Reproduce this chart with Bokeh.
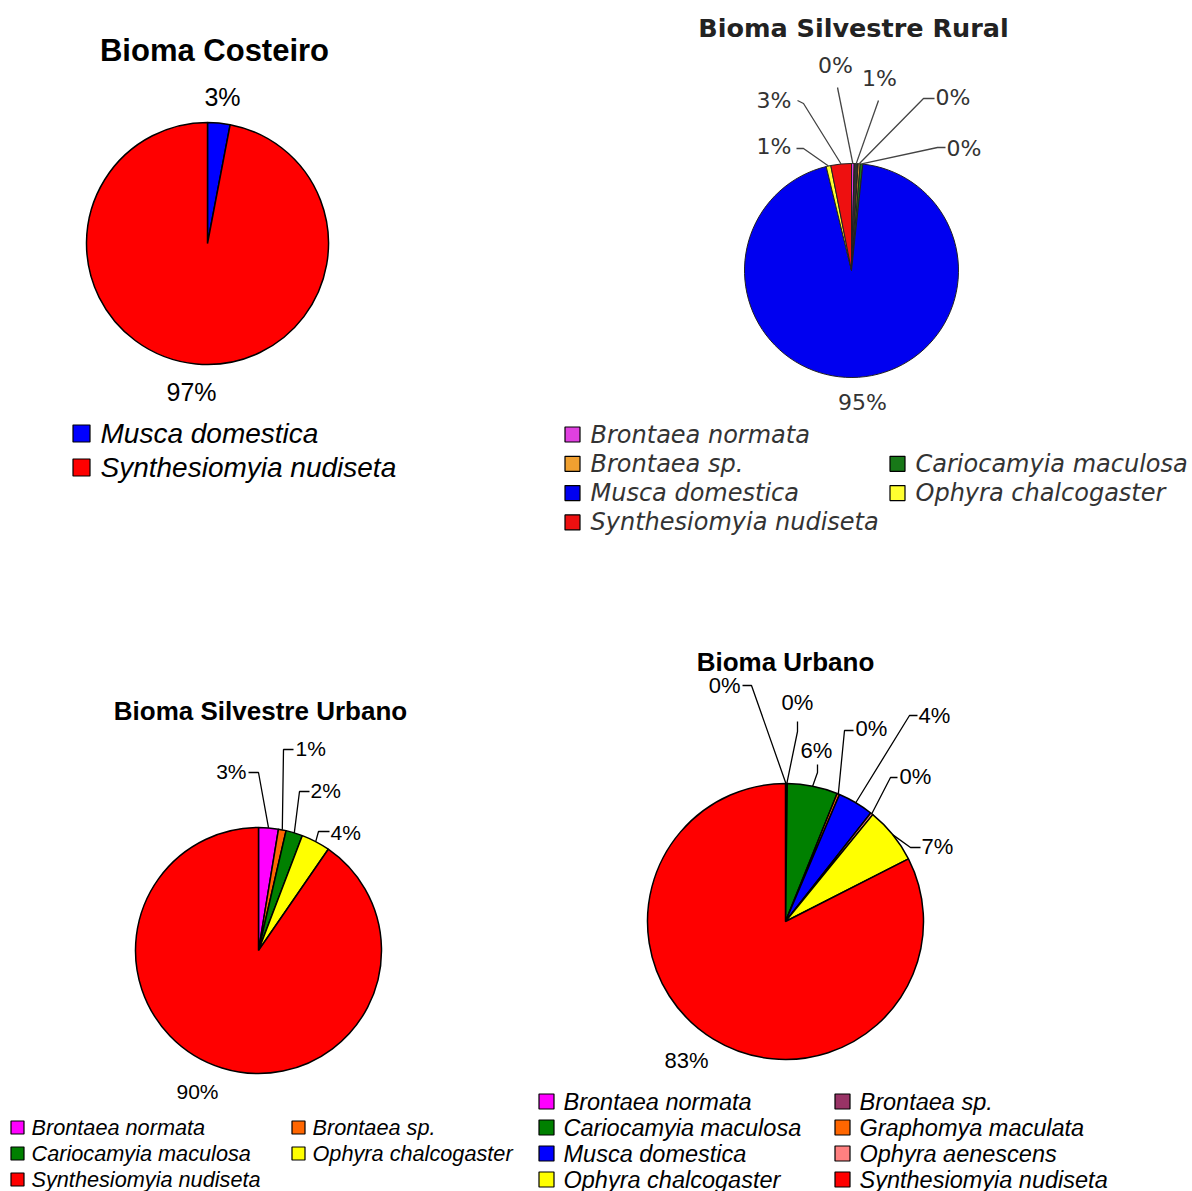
import math
from bokeh.plotting import figure
from bokeh.models import Range1d, ColumnDataSource
from bokeh.core.properties import value
from bokeh.embed import file_html
from bokeh.resources import INLINE

W, H = 1192, 1191

# ---------------- data ----------------
cost_species = ["Musca domestica", "Synthesiomyia nudiseta"]
cost_values = [3.0, 97.0]
cost_labels = ["3%", "97%"]
cost_colors = ["#0000ff", "#ff0000"]

rur_species = ["Brontaea normata", None, "Brontaea sp.", "Cariocamyia maculosa",
               "Musca domestica", "Ophyra chalcogaster", "Synthesiomyia nudiseta"]
rur_values = [0.4, 0.6, 0.3, 0.4, 94.5, 0.7, 3.1]
rur_labels = ["0%", "1%", "0%", "0%", "95%", "1%", "3%"]
rur_colors = ["#e040e0", "#303030", "#f0a030", "#187818", "#0000f0", "#ffff30", "#ee1010"]

su_species = ["Brontaea normata", "Brontaea sp.", "Cariocamyia maculosa",
              "Ophyra chalcogaster", "Synthesiomyia nudiseta"]
su_values = [2.6, 1.0, 2.2, 3.8, 90.4]
su_labels = ["3%", "1%", "2%", "4%", "90%"]
su_colors = ["#ff00ff", "#ff6600", "#008000", "#ffff00", "#ff0000"]

urb_species = ["Brontaea normata", "Brontaea sp.", "Cariocamyia maculosa", "Graphomya maculata",
               "Musca domestica", "Ophyra aenescens", "Ophyra chalcogaster", "Synthesiomyia nudiseta"]
urb_values = [0.1, 0.1, 5.9, 0.3, 4.2, 0.3, 6.6, 82.5]
urb_labels = ["0%", "0%", "6%", "0%", "4%", "0%", "7%", "83%"]
urb_colors = ["#ff00ff", "#993366", "#008000", "#ff6600", "#0000ff", "#ff8080", "#ffff00", "#ff0000"]

# ---------------- layout (image pixel coords, y down) ----------------
PIES = [
    dict(species=cost_species, values=cost_values, labels=cost_labels, colors=cost_colors,
         cx=207, cy=243, r=121, outline="black", lw=1.5, lead_color="black",
         font="Liberation Sans", tcolor="black", label_size="25px",
         title="Bioma Costeiro", title_xy=(214, 50), title_size="31px",
         label_pos=[(222, 96, "center"), (191, 391, "center")],
         leaders=[None, None],
         legend=dict(xs=[81], y0=433, dy=34, msize=17, tdx=19, size="28px")),
    dict(species=rur_species, values=rur_values, labels=rur_labels, colors=rur_colors,
         cx=851, cy=270, r=107, outline="#202020", lw=1.0, lead_color="#444444",
         font="DejaVu Sans", tcolor="#333333", label_size="22px",
         title="Bioma Silvestre Rural", title_xy=(853, 27), title_size="25.5px",
         label_pos=[(835, 65, "center"), (879, 78, "center"), (935, 97, "left"),
                    (946, 148, "left"), (862, 402, "center"), (791, 146, "right"),
                    (791, 100, "right")],
         leaders=[[(837, 87)], [(878, 100)], [(923, 98), (934, 98)],
                  [(937, 147), (945, 147)], None, [(803, 148), (796, 148)],
                  [(803, 103), (797, 100)]],
         legend=dict(xs=[572, 897], y0=434, dy=29.3, msize=15, tdx=18, size="24px")),
    dict(species=su_species, values=su_values, labels=su_labels, colors=su_colors,
         cx=258, cy=950, r=123, outline="black", lw=1.5, lead_color="black",
         font="Liberation Sans", tcolor="black", label_size="21px",
         title="Bioma Silvestre Urbano", title_xy=(260, 710), title_size="26px",
         label_pos=[(246, 771, "right"), (295, 748, "left"), (310, 790, "left"),
                    (330, 832, "left"), (197, 1091, "center")],
         leaders=[[(258, 772), (248, 772)], [(283, 749), (293, 749)],
                  [(299, 791), (309, 791)], [(318, 831), (329, 831)], None],
         legend=dict(xs=[17, 298], y0=1127, dy=26, msize=13, tdx=14, size="21.7px")),
    dict(species=urb_species, values=urb_values, labels=urb_labels, colors=urb_colors,
         cx=785, cy=921, r=138, outline="black", lw=1.5, lead_color="black",
         font="Liberation Sans", tcolor="black", label_size="22px",
         title="Bioma Urbano", title_xy=(785, 661), title_size="26px",
         label_pos=[(740, 685, "right"), (797, 702, "center"), (816, 750, "center"),
                    (855, 728, "left"), (918, 715, "left"), (899, 776, "left"),
                    (921, 846, "left"), (686, 1060, "center")],
         leaders=[[(751, 685), (742, 685)], [(797, 731), (797, 721)],
                  [(817, 772), (817, 764)], [(844, 730), (853, 730)],
                  [(909, 715), (917, 715)], [(890, 777), (897, 777)],
                  [(910, 847), (920, 847)], None],
         legend=dict(xs=[546, 842], y0=1101, dy=26, msize=15, tdx=17, size="23.5px")),
]


def Y(v):
    return H - v


p = figure(width=W, height=H, x_range=Range1d(0, W), y_range=Range1d(0, H),
           output_backend="svg", toolbar_location=None, min_border=0,
           x_axis_location=None, y_axis_location=None)
p.grid.visible = False
p.outline_line_color = None
p.background_fill_color = "white"
p.border_fill_color = "white"

for pie in PIES:
    vals = pie["values"]
    tot = float(sum(vals))
    cx, cy, r = pie["cx"], Y(pie["cy"]), pie["r"]
    starts, ends, mids = [], [], []
    cum = 0.0
    for v in vals:
        a0 = math.pi / 2 - 2 * math.pi * cum / tot
        cum += v
        a1 = math.pi / 2 - 2 * math.pi * cum / tot
        starts.append(a0)
        ends.append(a1)
        mids.append((a0 + a1) / 2)
    src = ColumnDataSource(dict(x=[cx] * len(vals), y=[cy] * len(vals),
                                s=starts, e=ends, c=pie["colors"]))
    p.wedge(x="x", y="y", radius=r, start_angle="s", end_angle="e", direction="clock",
            fill_color="c", line_color=pie["outline"], line_width=pie["lw"], source=src)

    # leader lines from slice edge
    xs, ys = [], []
    for m, ld in zip(mids, pie["leaders"]):
        if ld is None:
            continue
        ex, ey = cx + r * math.cos(m), cy + r * math.sin(m)
        xs.append([ex] + [pt[0] for pt in ld])
        ys.append([ey] + [Y(pt[1]) for pt in ld])
    if xs:
        p.multi_line(xs=xs, ys=ys, line_color=pie["lead_color"], line_width=1.3)

    # percentage labels
    for align in ("left", "right", "center"):
        lx, ly, lt = [], [], []
        for (x, y, a), t in zip(pie["label_pos"], pie["labels"]):
            if a == align:
                lx.append(x); ly.append(Y(y)); lt.append(t)
        if lx:
            p.text(x=lx, y=ly, text=lt, text_align=align, text_baseline="middle",
                   text_font=value(pie["font"]), text_font_size=pie["label_size"],
                   text_color=pie["tcolor"])

    # title
    tx, ty = pie["title_xy"]
    p.text(x=[tx], y=[Y(ty)], text=[pie["title"]], text_align="center", text_baseline="middle",
           text_font=value(pie["font"]), text_font_size=pie["title_size"],
           text_font_style="bold", text_color=pie["tcolor"] if pie["font"] != "DejaVu Sans" else "#222222")

    # legend (row-major grid)
    lg = pie["legend"]
    ncol = len(lg["xs"])
    mx, my, mc, tx_, ty_, tt = [], [], [], [], [], []
    for i, (name, col) in enumerate(zip(pie["species"], pie["colors"])):
        if name is None:
            continue
        rr, cc = divmod(i, ncol)
        x = lg["xs"][cc]
        y = Y(lg["y0"] + rr * lg["dy"])
        mx.append(x); my.append(y); mc.append(col)
        tx_.append(x + lg["tdx"]); ty_.append(y); tt.append(name)
    p.scatter(x=mx, y=my, marker="square", size=lg["msize"], fill_color=mc,
              line_color="black", line_width=1.2)
    p.text(x=tx_, y=ty_, text=tt, text_align="left", text_baseline="middle",
           text_font=value(pie["font"]), text_font_size=lg["size"], text_font_style="italic",
           text_color=pie["tcolor"])

open("out.html", "w").write(file_html(p, INLINE))
